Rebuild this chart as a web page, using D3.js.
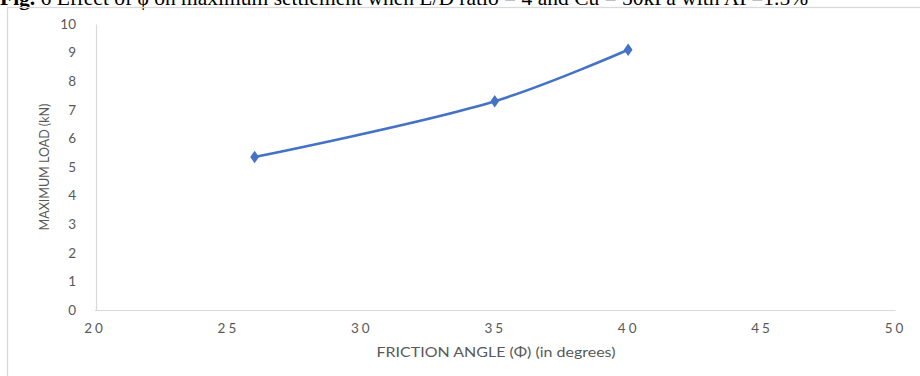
<!DOCTYPE html>
<html><head><meta charset="utf-8">
<script src="https://cdn.jsdelivr.net/npm/d3@7"></script>
<style>body{margin:0;background:#fff;overflow:hidden}svg{display:block}</style>
</head><body>
<svg id="c" width="920" height="376"></svg>
<script>
const frictionAngle = [26, 35, 40];
const maxLoad = [5.35, 7.3, 9.1];
const xTicks = [20, 25, 30, 35, 40, 45, 50];
const yTicks = [0, 1, 2, 3, 4, 5, 6, 7, 8, 9, 10];
const title = "6 Effect of \u03d5 on maximum settlement when L/D ratio = 4 and Cu = 50kPa with AF=1.5%";

const svg = d3.select("#c");
const x = d3.scaleLinear().domain([20, 50]).range([94.5, 895]);
const y = d3.scaleLinear().domain([0, 10]).range([310, 24]);

// caption at top (cut by the page edge as in the source)
const t = svg.append("text").attr("x", 0).attr("y", 5)
  .style("font-family", "Liberation Serif").style("font-size", "21.5px").attr("fill", "#000");
t.append("tspan").style("font-weight", "bold").text("Fig. ");
t.append("tspan").text(title);

// frame
svg.append("rect").attr("x", 7.5).attr("y", 7.5).attr("width", 930).attr("height", 400)
  .attr("fill", "none").attr("stroke", "#d9d9d9").attr("stroke-width", 1.3);

// axes
const xAxis = svg.append("g").attr("transform", `translate(0,${y(0)})`)
  .call(d3.axisBottom(x).tickValues(xTicks).tickSize(0).tickPadding(13).tickFormat(d3.format("d")));
const yAxis = svg.append("g").attr("transform", `translate(${x(20) + 1.5},0)`)
  .call(d3.axisLeft(y).tickValues(yTicks).tickSize(0).tickPadding(20).tickFormat(d3.format("d")));
[xAxis, yAxis].forEach(g => {
  g.select(".domain").attr("stroke", "#d9d9d9").attr("stroke-width", 1.2);
  g.selectAll("text").attr("fill", "#595959").style("font-family", "Lato, 'Open Sans', sans-serif").style("font-size", "13.5px");
});
xAxis.selectAll("text").style("letter-spacing", "3px");

// axis titles
svg.append("text").attr("transform", "translate(496,357) scale(1.28,1)").attr("text-anchor", "middle")
  .attr("fill", "#595959").style("font-family", "Lato, sans-serif").style("font-size", "12.5px")
  .text("FRICTION ANGLE (\u03a6) (in degrees)");
svg.append("text").attr("transform", "translate(49,167) rotate(-90)").attr("text-anchor", "middle")
  .attr("fill", "#595959").style("font-family", "Lato, sans-serif").style("font-size", "12.5px")
  .text("MAXIMUM LOAD (kN)");

const pts = frictionAngle.map((d, i) => [d, maxLoad[i]]);
const line = d3.line().x(d => x(d[0])).y(d => y(d[1])).curve(d3.curveCatmullRom.alpha(0.5));
svg.append("path").attr("d", line(pts)).attr("fill", "none").attr("stroke", "#4472c4").attr("stroke-width", 2.6);
svg.selectAll(".m").data(pts).enter().append("path")
  .attr("d", d3.symbol(d3.symbolDiamond, 50)())
  .attr("transform", d => `translate(${x(d[0])},${y(d[1])}) scale(1.15,0.95)`)
  .attr("fill", "#4472c4");
</script>
</body></html>
